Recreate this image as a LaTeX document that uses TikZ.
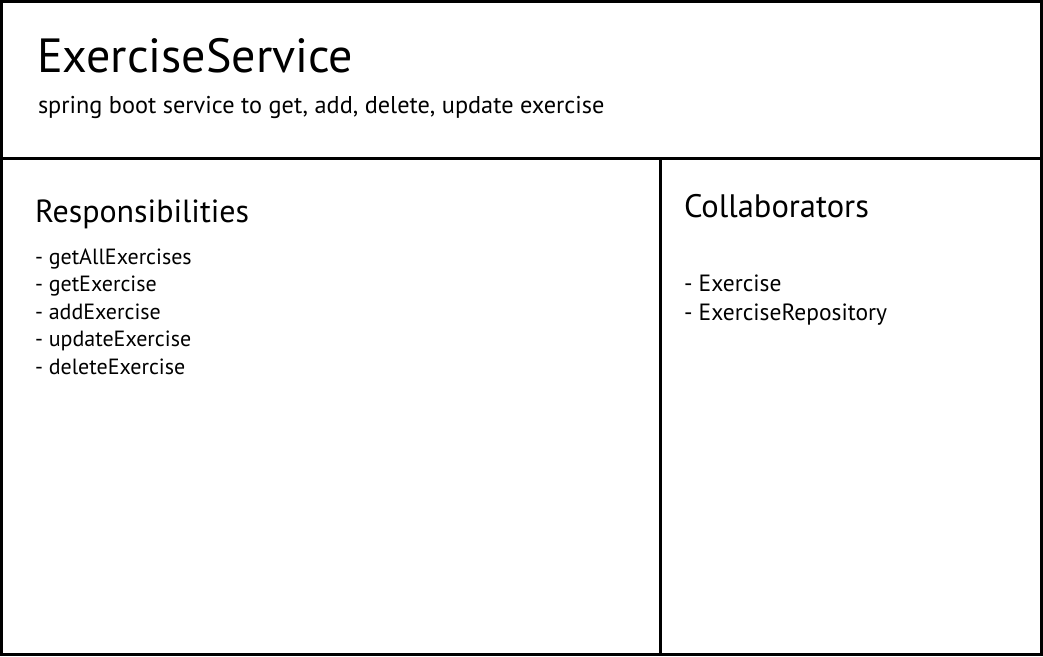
\documentclass[tikz,border=0pt]{standalone}
\usepackage{fontspec}
\setmainfont{PT Sans}
\begin{document}
\begin{tikzpicture}[x=1pt,y=-1pt,
  txt/.style={anchor=base west,inner sep=0pt,outer sep=0pt},
  frame/.style={line width=3pt,draw=black}]
\useasboundingbox (0,0) rectangle (1043,656);
\fill[white] (0,0) rectangle (1043,656);
\draw[frame] (1.5,1.5) rectangle (1041.5,654.5);
\draw[frame] (0,158.5) -- (1043,158.5);
\draw[frame] (660,158.5) -- (660,656);
\node[txt,font=\fontsize{48}{52}\selectfont] (title) at (37,72) {ExerciseService};
\node[txt,font=\fontsize{24.3}{28}\selectfont] (sub) at (38,113) {spring boot service to get, add, delete, update exercise};
\node[txt,font=\fontsize{32}{36}\selectfont] (resp) at (35,222) {Responsibilities};
\node[txt,font=\fontsize{22}{26}\selectfont] (r1) at (35,264) {- getAllExercises};
\node[txt,font=\fontsize{22}{26}\selectfont] (r2) at (35,291.5) {- getExercise};
\node[txt,font=\fontsize{22}{26}\selectfont] (r3) at (35,319) {- addExercise};
\node[txt,font=\fontsize{22}{26}\selectfont] (r4) at (35,346.5) {- updateExercise};
\node[txt,font=\fontsize{22}{26}\selectfont] (r5) at (35,374) {- deleteExercise};
\node[txt,font=\fontsize{32.5}{36}\selectfont] (coll) at (684,217) {Collaborators};
\node[txt,font=\fontsize{23.5}{27}\selectfont] (c1) at (684,291) {- Exercise};
\node[txt,font=\fontsize{23.5}{27}\selectfont] (c2) at (684,320) {- ExerciseRepository};
\end{tikzpicture}
\end{document}
